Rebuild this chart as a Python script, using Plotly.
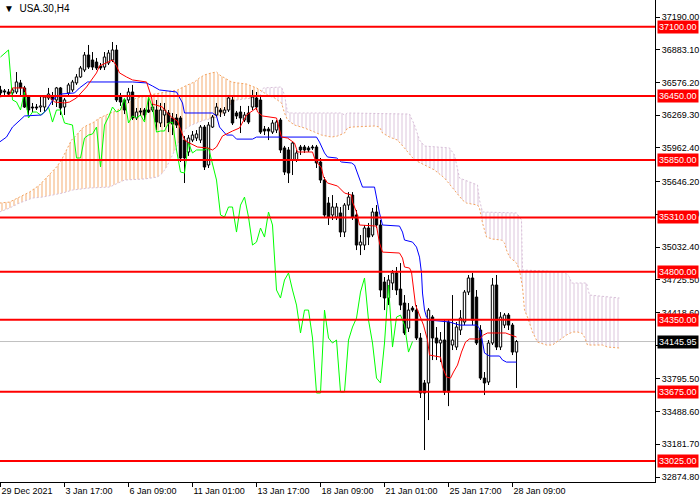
import plotly.graph_objects as go

# ---------------- data (H4 bars, index 0 = 29 Dec 2021) ----------------
bar_open = [36506, 36497, 36487, 36478, 36487, 36572, 36525, 36440, 36346, 36346,
            36346, 36346, 36431, 36440, 36412, 36525, 36346, 36478, 36506, 36572,
            36628, 36693, 36834, 36787, 36768, 36731, 36721, 36759, 36787, 36881,
            36440, 36412, 36412, 36487, 36243, 36309, 36318, 36318, 36318, 36318,
            36196, 36271, 36290, 36243, 36243, 36243, 36036, 35924, 36036, 36055,
            36036, 36158, 35802, 36158, 36271, 36318, 36290, 36318, 36412, 36290,
            36299, 36224, 36290, 36346, 36431, 36412, 36139, 36139, 36111, 36130,
            36224, 35962, 35943, 35849, 35849, 35971, 35971, 35962, 35971, 35971,
            35830, 35661, 35445, 35333, 35314, 35352, 35173, 35426, 35520, 35333,
            35051, 35051, 35211, 35145, 35361, 35239, 34704, 34554, 34695, 34789,
            34638, 34507, 34272, 34460, 34441, 34179, 33757, 33757, 34376, 34179,
            34132, 34160, 34329, 34113, 34094, 34254, 34329, 34610, 34742, 34563,
            34254, 33803, 33766, 34132, 34676, 34094, 34300, 34394, 34300, 34047]
bar_close = [36478, 36487, 36468, 36506, 36581, 36525, 36346, 36318, 36337, 36337,
             36356, 36440, 36468, 36412, 36525, 36337, 36412, 36553, 36581, 36628,
             36712, 36834, 36721, 36721, 36712, 36712, 36815, 36853, 36881, 36412,
             36393, 36318, 36487, 36243, 36299, 36299, 36271, 36299, 36346, 36205,
             36318, 36318, 36196, 36186, 36177, 35868, 35868, 36055, 36083, 36093,
             36158, 35783, 36177, 36252, 36346, 36299, 36318, 36431, 36196, 36262,
             36243, 36271, 36205, 36440, 36346, 36111, 36121, 36121, 36196, 36205,
             35943, 35736, 35727, 36008, 35915, 35943, 35943, 35943, 35962, 35821,
             35661, 35333, 35314, 35408, 35408, 35173, 35426, 35501, 35314, 35051,
             35079, 35211, 35126, 35361, 35239, 34629, 34554, 34723, 34789, 34629,
             34488, 34226, 34441, 34441, 34179, 33663, 33663, 34441, 34179, 34132,
             34160, 33672, 33672, 34160, 34282, 34366, 34610, 34742, 34347, 34132,
             33803, 33757, 34132, 34676, 34094, 34375, 34394, 34300, 34047, 34145.95]
bar_high = [36544, 36515, 36515, 36525, 36674, 36600, 36544, 36459, 36384, 36374,
            36440, 36459, 36525, 36487, 36534, 36534, 36431, 36572, 36600, 36655,
            36731, 36862, 36928, 36862, 36806, 36759, 36862, 36881, 36956, 36928,
            36478, 36431, 36525, 36553, 36337, 36337, 36337, 36431, 36374, 36412,
            36384, 36384, 36318, 36290, 36280, 36262, 36074, 36083, 36121, 36130,
            36177, 36177, 36205, 36271, 36384, 36337, 36346, 36459, 36440, 36309,
            36356, 36299, 36356, 36506, 36487, 36440, 36168, 36158, 36224, 36224,
            36243, 35981, 35971, 36017, 35943, 35990, 35990, 35981, 35990, 35990,
            35868, 35689, 35501, 35520, 35445, 35408, 35445, 35548, 35548, 35380,
            35145, 35239, 35258, 35399, 35426, 35286, 34751, 34770, 34817, 34845,
            34882, 34582, 34507, 34479, 34488, 34226, 33785, 34460, 34394, 34282,
            34235, 34347, 34347, 34582, 34329, 34441, 34629, 34770, 34789, 34629,
            34300, 33860, 34160, 34742, 34770, 34422, 34413, 34413, 34319, 34160]
bar_low = [36450, 36459, 36440, 36459, 36468, 36440, 36337, 36271, 36299, 36318,
           36299, 36299, 36412, 36365, 36346, 36271, 36271, 36459, 36487, 36553,
           36619, 36674, 36703, 36693, 36693, 36693, 36693, 36740, 36768, 36393,
           36356, 36280, 36384, 36224, 36224, 36262, 36224, 36290, 36299, 36130,
           36158, 36158, 36111, 36083, 36149, 35830, 35633, 35887, 36017, 36027,
           36008, 35755, 35774, 36149, 36252, 36252, 36262, 36299, 36177, 36233,
           36102, 36205, 36186, 36318, 36318, 36093, 36083, 36036, 36093, 36102,
           35915, 35708, 35633, 35708, 35830, 35896, 35915, 35924, 35943, 35774,
           35633, 35314, 35239, 35286, 35286, 35126, 35126, 35380, 35286, 35004,
           34957, 35004, 35051, 35126, 35211, 34563, 34441, 34488, 34629, 34582,
           34441, 34207, 34235, 34422, 34160, 33616, 33128, 33409, 33972, 33972,
           33953, 33644, 33540, 34066, 34066, 34207, 34300, 34582, 34300, 34113,
           33785, 33644, 33738, 34113, 34066, 34066, 34272, 34254, 34019, 33710]

# Tenkan-sen (red) and Kijun-sen (blue): bar position, price
tenkan_x = [-0.25, 2.25, 3, 6, 6.5, 12.25, 13.5, 16, 17.25, 19, 21.5, 24, 24.75, 28, 29, 29.75,
            31.5, 33, 36.5, 37.75, 38, 40.5, 41, 43, 44.25, 45.25, 46, 47.25, 49.25, 51.75, 53,
            54, 55.5, 58, 59.75, 61.5, 63, 64, 64.25, 65.5, 69, 69.75, 70.25, 71.75, 73.5, 74.25,
            78, 78.5, 79.25, 80.25, 80.75, 81.75, 84.25, 86, 87.75, 88, 89, 89.75, 94, 94.75,
            95.5, 99.75, 100.5, 101, 102.25, 102.75, 103, 103.75, 104.75, 105.75, 106.75,
            107.25, 110, 110.5, 111.5, 112.5, 113.25, 114.25, 115.25, 116.25, 117.25, 119.75,
            120.75, 121.75, 126.25, 128, 129]
tenkan_y = [36440, 36459, 36525, 36525, 36450, 36440, 36393, 36384, 36393, 36431, 36534, 36666,
            36731, 36787, 36731, 36666, 36628, 36600, 36581, 36440, 36374, 36346, 36318, 36243,
            36215, 36121, 36036, 36008, 35971, 35962, 35943, 35971, 36074, 36121, 36149, 36271,
            36309, 36337, 36299, 36262, 36243, 36149, 36064, 36055, 36008, 35924, 35924, 35868,
            35821, 35774, 35689, 35633, 35605, 35539, 35520, 35454, 35361, 35239, 35229, 35070,
            34985, 34976, 34929, 34845, 34835, 34798, 34723, 34488, 34394, 34300, 34160, 34019,
            34000, 33906, 33813, 33803, 33860, 33925, 34047, 34141, 34170, 34170, 34207, 34226,
            34226, 34198, 34188]
kijun_x = [-0.25, 1.5, 3, 4.75, 6, 10.25, 11.5, 12.75, 13.5, 15.25, 18.5, 19.75, 21, 21.75, 33,
           36.5, 38, 39.75, 44, 44.75, 45.5, 46, 53, 54, 54.75, 56.5, 58, 59, 63, 64, 79, 79.75,
           81, 81.75, 84, 85.25, 87.75, 88.5, 89.25, 90.5, 93.5, 94.25, 94.75, 95.5, 99.75,
           100.5, 101, 103, 104, 104.75, 105.25, 105.5, 106, 106.5, 107.25, 112.25, 114.75, 119,
           119.75, 120.5, 121, 122.25, 124.75, 125.5, 126.5, 129]
kijun_y = [36017, 36064, 36158, 36224, 36262, 36271, 36318, 36393, 36431, 36468, 36478, 36525,
           36562, 36581, 36581, 36572, 36543, 36506, 36487, 36440, 36384, 36290, 36290, 36262,
           36158, 36083, 36083, 36045, 36045, 36064, 36064, 36017, 35915, 35877, 35868, 35830,
           35821, 35802, 35727, 35595, 35595, 35445, 35352, 35239, 35229, 35173, 35098, 35079,
           35032, 34938, 34788, 34601, 34441, 34375, 34347, 34329, 34300, 34300, 34272, 34141,
           34038, 34010, 34010, 33972, 33953, 33953]

# Senkou span A (orange) and span B (thistle), shifted 26 bars forward
span_a_x = [-0.25, 2.25, 4.75, 7.25, 9.75, 12.25, 14, 15.25, 16.5, 17.75, 19, 20.5, 21.75, 23,
            24.75, 26.5, 28, 29.25, 30.5, 32.25, 34, 35.5, 37.25, 39.75, 41.75, 44.25, 46.75,
            48.5, 49.75, 51, 52.75, 54, 54.75, 56, 57.75, 59.25, 61.5, 62.75, 64, 65.25, 66.75,
            68.5, 70.25, 71, 71.75, 73.5, 76, 78.5, 80.25, 82.75, 84.25, 86, 86.75, 87.75, 93.5,
            94.75, 95.5, 97.25, 99.25, 101, 103.5, 106, 108.5, 111, 113.5, 115.5, 116.5, 119.25,
            119.75, 120.5, 121.5, 123, 125.25, 126, 126.5, 127.25, 129, 129.75, 130.5, 131,
            131.75, 133, 134.25, 136.5, 138, 139.75, 141.5, 143, 144.25, 145.25, 146, 146.75,
            150.5, 151.75, 154.75]
span_a = [35445, 35454, 35501, 35548, 35614, 35708, 35783, 35849, 35943, 36036, 36083, 36149,
          36177, 36196, 36243, 36271, 36299, 36318, 36346, 36393, 36431, 36440, 36459, 36478,
          36487, 36506, 36553, 36581, 36619, 36647, 36666, 36675, 36647, 36619, 36581, 36572,
          36562, 36543, 36525, 36496, 36459, 36431, 36384, 36290, 36224, 36177, 36149, 36111,
          36083, 36064, 36074, 36102, 36149, 36158, 36168, 36158, 36102, 36064, 36036, 35961,
          35849, 35802, 35755, 35680, 35567, 35473, 35445, 35426, 35398, 35258, 35126, 35107,
          35098, 35070, 35004, 34938, 34882, 34817, 34657, 34441, 34375, 34235, 34141, 34113,
          34113, 34160, 34207, 34235, 34235, 34226, 34188, 34113, 34113, 34094, 34085]
span_b_x = [-0.25, 2.25, 4.75, 8, 10.5, 15.5, 18, 22.25, 27.25, 29, 31, 36, 39.25, 40.5, 41.5,
            42.75, 44, 45.25, 46.5, 47.75, 49, 51, 53.5, 56, 57.75, 59, 61, 63.5, 64.75, 65.25,
            65.75, 70.25, 71, 71.75, 72.75, 85.25, 86, 86.75, 102.25, 103.5, 104.75, 106,
            112.25, 113.5, 114.75, 119.25, 119.75, 120.5, 129, 130.25, 130.5, 141, 142.25,
            142.75, 146.5, 147.25, 151.5, 154.75]
span_b = [35361, 35398, 35445, 35492, 35501, 35539, 35567, 35586, 35595, 35624, 35661, 35671,
          35689, 35727, 35783, 35877, 35971, 36083, 36149, 36177, 36196, 36224, 36243, 36290,
          36384, 36412, 36422, 36431, 36450, 36496, 36525, 36534, 36459, 36299, 36290, 36290,
          36271, 36290, 36280, 36177, 36036, 35980, 35962, 35896, 35680, 35614, 35473, 35361,
          35352, 35286, 34817, 34798, 34751, 34695, 34695, 34582, 34563, 34554]
cloud_cross = 65.25  # bar where span A and span B cross

levels = [37100, 36450, 35850, 35310, 34800, 34350, 33675, 33025]
last_price = 34145.95

x_tick_bars = [0, 16, 32, 48, 64, 80, 96, 112, 128]
x_tick_labels = ["29 Dec 2021", "3 Jan 17:00", "6 Jan 09:00", "11 Jan 01:00", "13 Jan 17:00",
                 "18 Jan 09:00", "21 Jan 01:00", "25 Jan 17:00", "28 Jan 09:00"]
y_tick_vals = [37190.00, 36883.10, 36576.20, 36269.30, 35962.40, 35646.20, 35339.30, 35032.40,
               34725.50, 34418.60, 34111.70, 33795.50, 33488.60, 33181.70, 32874.80]

# ---------------- figure ----------------
FONT = "Liberation Sans, Arial, sans-serif"
ORANGE = "#F4A460"
THISTLE = "#D8BFD8"
n = len(bar_close)
bars = list(range(n))

fig = go.Figure()

def part(xs, ys, cond):
    px, py = [], []
    for a, b in zip(xs, ys):
        if cond(a):
            px.append(a)
            py.append(b)
    return px, py

# Kumo (cloud) fills
bx, by = part(span_b_x, span_b, lambda v: v <= cloud_cross)
ax, ay = part(span_a_x, span_a, lambda v: v <= cloud_cross)
fig.add_trace(go.Scatter(x=bx, y=by, mode="lines", line=dict(width=0), hoverinfo="skip"))
fig.add_trace(go.Scatter(x=ax, y=ay, mode="lines", line=dict(width=0), fill="tonexty",
                         fillcolor="rgba(0,0,0,0)",
                         fillpattern=dict(shape="|", fgcolor=ORANGE, bgcolor="rgba(0,0,0,0)",
                                          size=4, solidity=0.45), hoverinfo="skip"))
ax, ay = part(span_a_x, span_a, lambda v: v >= cloud_cross)
bx, by = part(span_b_x, span_b, lambda v: v >= cloud_cross)
fig.add_trace(go.Scatter(x=ax, y=ay, mode="lines", line=dict(width=0), hoverinfo="skip"))
fig.add_trace(go.Scatter(x=bx, y=by, mode="lines", line=dict(width=0), fill="tonexty",
                         fillcolor="rgba(0,0,0,0)",
                         fillpattern=dict(shape="|", fgcolor=THISTLE, bgcolor="rgba(0,0,0,0)",
                                          size=4, solidity=0.45), hoverinfo="skip"))
# span lines
fig.add_trace(go.Scatter(x=span_b_x, y=span_b, mode="lines",
                         line=dict(color=THISTLE, width=1, dash="2px,2px")))
fig.add_trace(go.Scatter(x=span_a_x, y=span_a, mode="lines",
                         line=dict(color=ORANGE, width=1, dash="2px,2px")))

# candles: wicks
wx, wy = [], []
for i in bars:
    top = max(bar_open[i], bar_close[i])
    bot = min(bar_open[i], bar_close[i])
    wx += [i, i, None, i, i, None]
    wy += [bar_high[i], top, None, bot, bar_low[i], None]
fig.add_trace(go.Scatter(x=wx, y=wy, mode="lines", line=dict(color="black", width=1),
                         connectgaps=False))

# candles: bodies
hw = 0.3
def bodies(up):
    xs, ys = [], []
    for i in bars:
        if (bar_close[i] >= bar_open[i]) == up:
            o, c = bar_open[i], bar_close[i]
            xs += [i - hw, i + hw, i + hw, i - hw, i - hw, None]
            ys += [o, o, c, c, o, None]
    return xs, ys
ux, uy = bodies(True)
dx, dy = bodies(False)
fig.add_trace(go.Scatter(x=ux, y=uy, mode="lines", fill="toself", fillcolor="white",
                         line=dict(color="black", width=1), connectgaps=False))
fig.add_trace(go.Scatter(x=dx, y=dy, mode="lines", fill="toself", fillcolor="black",
                         line=dict(color="black", width=1), connectgaps=False))

# Chikou span: close shifted 26 bars back
fig.add_trace(go.Scatter(x=bars[:n - 26], y=bar_close[26:], mode="lines",
                         line=dict(color="#00FF00", width=1)))
# Tenkan / Kijun
fig.add_trace(go.Scatter(x=kijun_x, y=kijun_y, mode="lines", line=dict(color="#0000FF", width=1)))
fig.add_trace(go.Scatter(x=tenkan_x, y=tenkan_y, mode="lines", line=dict(color="#FF0000", width=1)))

# horizontal levels
shapes = [dict(type="line", xref="paper", x0=0, x1=1, yref="y", y0=last_price, y1=last_price,
               line=dict(color="#C0C0C0", width=1), layer="below")]
annotations = []
for lv in levels:
    shapes.append(dict(type="line", xref="paper", x0=0, x1=1, yref="y", y0=lv, y1=lv,
                       line=dict(color="#FF0000", width=2), layer="above"))
    annotations.append(dict(x=1, xref="paper", y=lv, yref="y", text=f"{lv:.2f}",
                            showarrow=False, xanchor="left", yanchor="middle", xshift=2,
                            font=dict(family=FONT, size=9, color="white"),
                            bgcolor="#FF0000", borderpad=1))
annotations.append(dict(x=1, xref="paper", y=last_price, yref="y", text=f"{last_price:.2f}",
                        showarrow=False, xanchor="left", yanchor="middle", xshift=2,
                        font=dict(family=FONT, size=9, color="white"),
                        bgcolor="black", borderpad=1))
annotations.append(dict(x=0, xref="paper", y=1, yref="paper", text="▼  USA.30,H4",
                        showarrow=False, xanchor="left", yanchor="top", xshift=2, yshift=-1,
                        font=dict(family=FONT, size=10, color="black")))

fig.update_layout(
    width=700, height=500, autosize=False,
    margin=dict(l=0, r=45, t=0, b=18),
    paper_bgcolor="white", plot_bgcolor="white",
    showlegend=False, hovermode=False,
    shapes=shapes, annotations=annotations,
    xaxis=dict(range=[-0.125, 163.625], showgrid=False, zeroline=False,
               showline=True, linecolor="black", linewidth=1,
               ticks="outside", ticklen=4, tickcolor="black",
               tickvals=x_tick_bars, ticktext=x_tick_labels,
               ticklabelposition="outside right",
               tickfont=dict(family=FONT, size=9, color="black")),
    yaxis=dict(side="right", range=[32828, 37350], showgrid=False, zeroline=False,
               showline=True, linecolor="black", linewidth=1,
               ticks="outside", ticklen=4, tickcolor="black",
               tickvals=y_tick_vals, ticktext=[f"{v:.2f}" for v in y_tick_vals],
               tickfont=dict(family=FONT, size=9, color="black")),
)

fig.write_html("out.html", config={"displayModeBar": False},
               post_script="document.body.style.margin='0';document.body.style.padding='0';")
